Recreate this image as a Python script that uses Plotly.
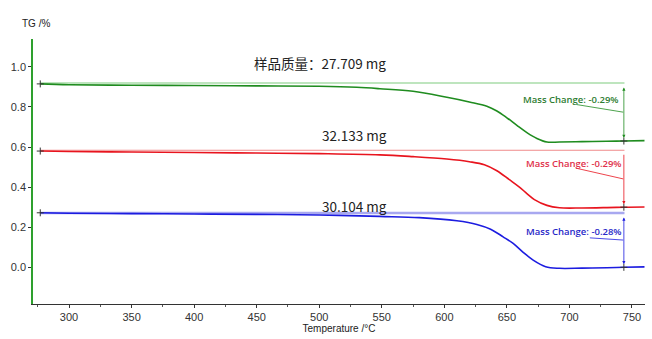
import plotly.graph_objects as go

# ---- data ----
green_T = [277, 300, 350, 400, 450, 500, 530, 548.5, 575, 602, 620, 634, 642, 650, 658, 666, 674, 682, 692, 710, 730, 743.5, 760]
green_v = [0.915, 0.911, 0.908, 0.907, 0.905, 0.903, 0.898, 0.891, 0.878, 0.848, 0.825, 0.804, 0.780, 0.746, 0.708, 0.672, 0.643, 0.625, 0.625, 0.627, 0.629, 0.630, 0.632]

red_T = [277, 300, 350, 400, 450, 500, 548.5, 575, 602, 620, 632, 642, 652, 660, 666, 672, 682, 692, 710, 730, 743.5, 760]
red_v = [0.580, 0.578, 0.575, 0.573, 0.570, 0.567, 0.561, 0.552, 0.540, 0.527, 0.512, 0.482, 0.437, 0.400, 0.368, 0.338, 0.309, 0.297, 0.296, 0.298, 0.300, 0.301]

blue_T = [277, 300, 350, 400, 450, 500, 548.5, 580, 610, 626, 637, 647, 655, 663, 671, 681, 692, 710, 730, 743.5, 760]
blue_v = [0.272, 0.270, 0.268, 0.266, 0.264, 0.261, 0.254, 0.248, 0.232, 0.214, 0.190, 0.152, 0.119, 0.075, 0.036, 0.003, -0.005, -0.004, -0.002, 0.000, 0.002]

ref_levels = [0.919, 0.584, 0.271]
ref_start, ref_end = 277, 744
mass_labels = ["Mass Change: -0.29%", "Mass Change: -0.29%", "Mass Change: -0.28%"]
sample_labels = ["样品质量：27.709 mg", "32.133 mg", "30.104 mg"]
label_T = [500.5, 528.5, 528.5]
label_v = [1.018, 0.658, 0.305]

curve_colors = ["#1f8c1f", "#e8141e", "#1c1ce0"]
ref_colors = ["#a8dca8", "#f08a8a", "#a8a8f0"]
ref_widths = [1.5, 1, 2.5]
text_colors = ["#2e7d32", "#e0304a", "#2828c8"]

curves = [(green_T, green_v), (red_T, red_v), (blue_T, blue_v)]

fig = go.Figure()

for i, (T, v) in enumerate(curves):
    fig.add_trace(go.Scatter(x=[ref_start, ref_end], y=[ref_levels[i], ref_levels[i]], mode="lines",
                             line=dict(color=ref_colors[i], width=ref_widths[i]), hoverinfo="skip"))
for i, (T, v) in enumerate(curves):
    fig.add_trace(go.Scatter(x=T, y=v, mode="lines", line=dict(color=curve_colors[i], width=1.6),
                             line_shape="spline"))
    fig.add_trace(go.Scatter(x=[T[0], T[-2]], y=[v[0], v[-2]], mode="markers",
                             marker=dict(symbol="cross-thin", size=5, line=dict(color="#333", width=1))))

# mass change annotations
text_pos = [(701, 0.837), (703.5, 0.52), (703.5, 0.18)]
pointer = [((705.7, 0.812), (743, 0.774)), ((705.7, 0.494), (743, 0.441)), ((716.3, 0.147), (743, 0.136))]
for i, (T, v) in enumerate(curves):
    tx, ty = text_pos[i]
    fig.add_annotation(x=tx, y=ty, text=mass_labels[i], showarrow=False,
                       font=dict(family="Open Sans", size=9.5, color=text_colors[i], weight=600))
    (x0, y0), (x1, y1) = pointer[i]
    fig.add_shape(type="line", x0=x0, y0=y0, x1=x1, y1=y1, line=dict(color=curve_colors[i], width=0.8))
    fig.add_annotation(x=743.5, y=v[-2] + 0.015, ax=743.5, ay=ref_levels[i] - 0.015,
                       axref="x", ayref="y", showarrow=True, arrowhead=2, arrowsize=0.8,
                       arrowwidth=0.8, arrowcolor=curve_colors[i],
                       arrowside="end+start" if i != 1 else "end", text="")

for i in range(3):
    fig.add_annotation(x=label_T[i], y=label_v[i], text=sample_labels[i], showarrow=False,
                       font=dict(family="Noto Sans CJK SC", size=13.5, color="#222"))

fig.add_annotation(x=-0.022, y=1.085, xref="paper", yref="paper", text="TG /%", showarrow=False,
                   xanchor="left", font=dict(family="Arial", size=10, color="#222"))

fig.update_layout(
    width=652, height=339, margin=dict(l=33, r=7, t=39, b=33),
    plot_bgcolor="white", paper_bgcolor="white", showlegend=False,
    xaxis=dict(range=[271.2, 760.4], dtick=50, tick0=300, ticks="outside", ticklen=3,
               tickcolor="#333", showline=True, linecolor="#333", linewidth=1, showgrid=False,
               zeroline=False, tickfont=dict(family="Arial", size=11, color="#333"),
               minor=dict(dtick=25, ticks="outside", ticklen=2, tickcolor="#555"),
               title=dict(text="Temperature /°C", font=dict(family="Arial", size=10, color="#222"), standoff=2)),
    yaxis=dict(range=[-0.183, 1.139], dtick=0.2, tick0=0, ticks="outside", ticklen=3,
               tickcolor="#333", showline=True, linecolor="#2ea02e", linewidth=1.5, showgrid=False,
               zeroline=False, tickformat=".1f", tickfont=dict(family="Arial", size=11, color="#333")),
)

fig.write_html("out.html")
